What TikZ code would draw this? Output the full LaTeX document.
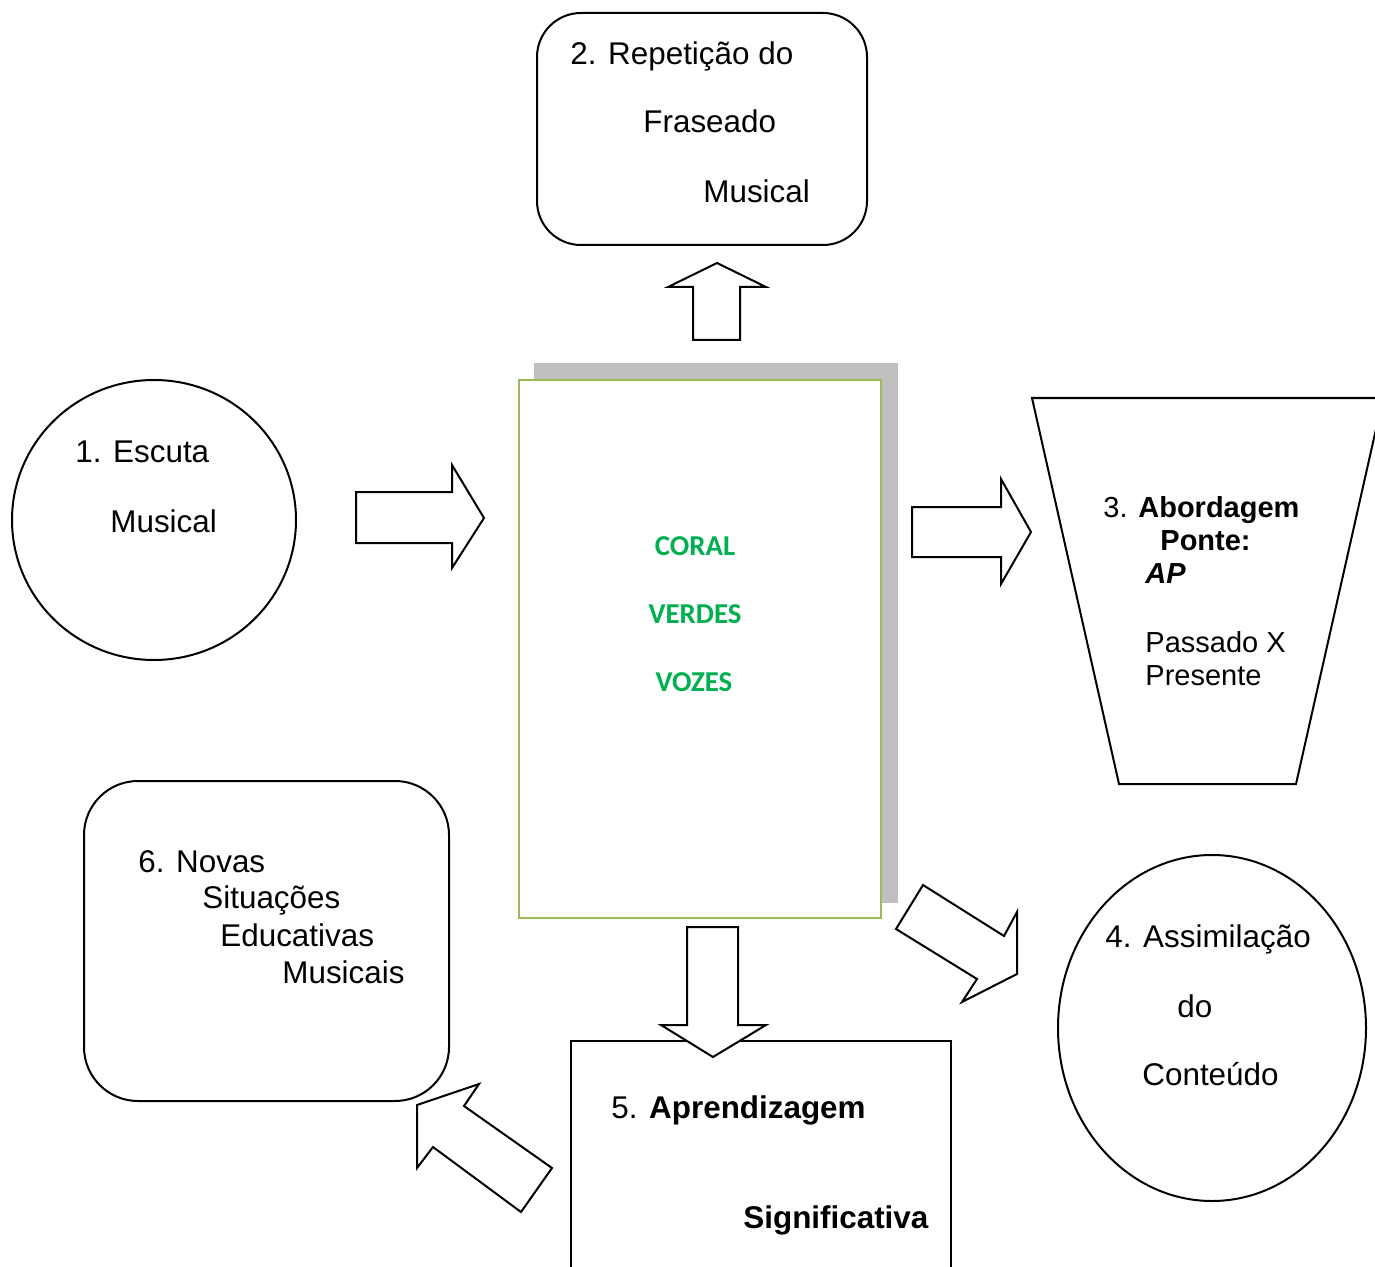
\documentclass[tikz,border=0pt]{standalone}
\usepackage{fontspec}
\setmainfont{Liberation Sans}
\newfontfamily\calibrifont{Carlito}
\usetikzlibrary{shapes.geometric}
\definecolor{cgreen}{RGB}{0,176,80}
\definecolor{cborder}{RGB}{155,187,89}
\definecolor{cshadow}{RGB}{191,191,191}
\begin{document}
\begin{tikzpicture}[x=0.5pt,y=-0.5pt,
  outl/.style={draw=black, line width=1pt, fill=white},
  blockarrow/.style={draw=black, line width=1pt, fill=white, line join=miter},
  lbl/.style={anchor=base west, inner sep=0pt, font=\fontsize{15.7pt}{18pt}\selectfont},
  tlbl/.style={anchor=base west, inner sep=0pt, font=\fontsize{14.5pt}{17pt}\selectfont},
  glbl/.style={anchor=center, inner sep=0pt, text=cgreen, font=\calibrifont\bfseries\fontsize{14.4pt}{17pt}\selectfont}]
\useasboundingbox (0,0) rectangle (1375,1267);
\clip (0,0) rectangle (1375,1267);

% 1. circle
\node[outl, ellipse, inner sep=0pt, minimum width=142pt, minimum height=140pt] (n1) at (154,520) {};
\node[lbl] (t1a) at (75,462) {1. Escuta};
\node[lbl] (t1b) at (110,532) {Musical};

% 2. rounded box
\node[outl, rectangle, rounded corners=22pt, minimum width=165pt, minimum height=116pt] (n2) at (702,129) {};
\node[lbl] (t2a) at (570,65) {2. Repetição do};
\node[lbl] (t2b) at (643,133) {Fraseado};
\node[lbl] (t2c) at (703,203) {Musical};

% central box with shadow
\fill[cshadow] (534,363) rectangle (898,903);
\node[draw=cborder, line width=1.2pt, fill=white, minimum width=181pt, minimum height=269pt] (c) at (700,649) {};
\node[glbl] (g1) at (695,546) {CORAL};
\node[glbl] (g2) at (695,614) {VERDES};
\node[glbl] (g3) at (694,682) {VOZES};

% 3. trapezoid
\draw[outl] (1032,398) coordinate (n3a) -- (1383,398) -- (1296,784) -- (1119,784) -- cycle;
\node[tlbl] (t3a) at (1103,517) {3. \textbf{Abordagem}};
\node[tlbl] (t3b) at (1160,550) {\textbf{Ponte:}};
\node[tlbl] (t3c) at (1145,583) {\textbf{\textit{AP}}};
\node[tlbl] (t3d) at (1145,652) {Passado X};
\node[tlbl] (t3e) at (1145,685) {Presente};

% 4. ellipse
\node[outl, ellipse, inner sep=0pt, minimum width=154pt, minimum height=173pt] (n4) at (1212,1028) {};
\node[lbl] (t4a) at (1105,947) {4. Assimilação};
\node[lbl] (t4b) at (1177,1017) {do};
\node[lbl] (t4c) at (1142,1085) {Conteúdo};

% 5. box
\node[outl, rectangle, minimum width=190pt, minimum height=130pt] (n5) at (761,1171) {};
\node[lbl] (t5a) at (611,1118) {5. \textbf{Aprendizagem}};
\node[lbl] (t5b) at (743,1228) {\textbf{Significativa}};

% 6. rounded box
\node[outl, rectangle, rounded corners=27pt, minimum width=182.5pt, minimum height=160pt] (n6) at (266.5,941) {};
\node[lbl] (t6a) at (138,872) {6. Novas};
\node[lbl] (t6b) at (202,908) {Situações};
\node[lbl] (t6c) at (220,946) {Educativas};
\node[lbl] (t6d) at (282,983) {Musicais};

% block arrows
\draw[blockarrow] (693,340) -- (693,287) -- (668,287) -- (717,263) -- (766,287) -- (740,287) -- (740,340) -- cycle;
\draw[blockarrow] (356,492) -- (452,492) -- (452,465) -- (484,518) -- (452,568) -- (452,543) -- (356,543) -- cycle;
\draw[blockarrow] (912,507) -- (1001,507) -- (1001,479) -- (1031,532) -- (1001,584) -- (1001,557) -- (912,557) -- cycle;
\draw[blockarrow] (687,927) -- (738,927) -- (738,1025) -- (766,1025) -- (713,1057) -- (661,1025) -- (687,1025) -- cycle;
\draw[blockarrow] (923,885) -- (1004,936) -- (1017,912) -- (1017,974) -- (962,1002) -- (977,979) -- (896,929) -- cycle;
\draw[blockarrow] (417,1105) -- (479,1084) -- (464,1106) -- (552,1168) -- (521,1212) -- (433,1147) -- (417,1168) -- cycle;
\end{tikzpicture}
\end{document}
